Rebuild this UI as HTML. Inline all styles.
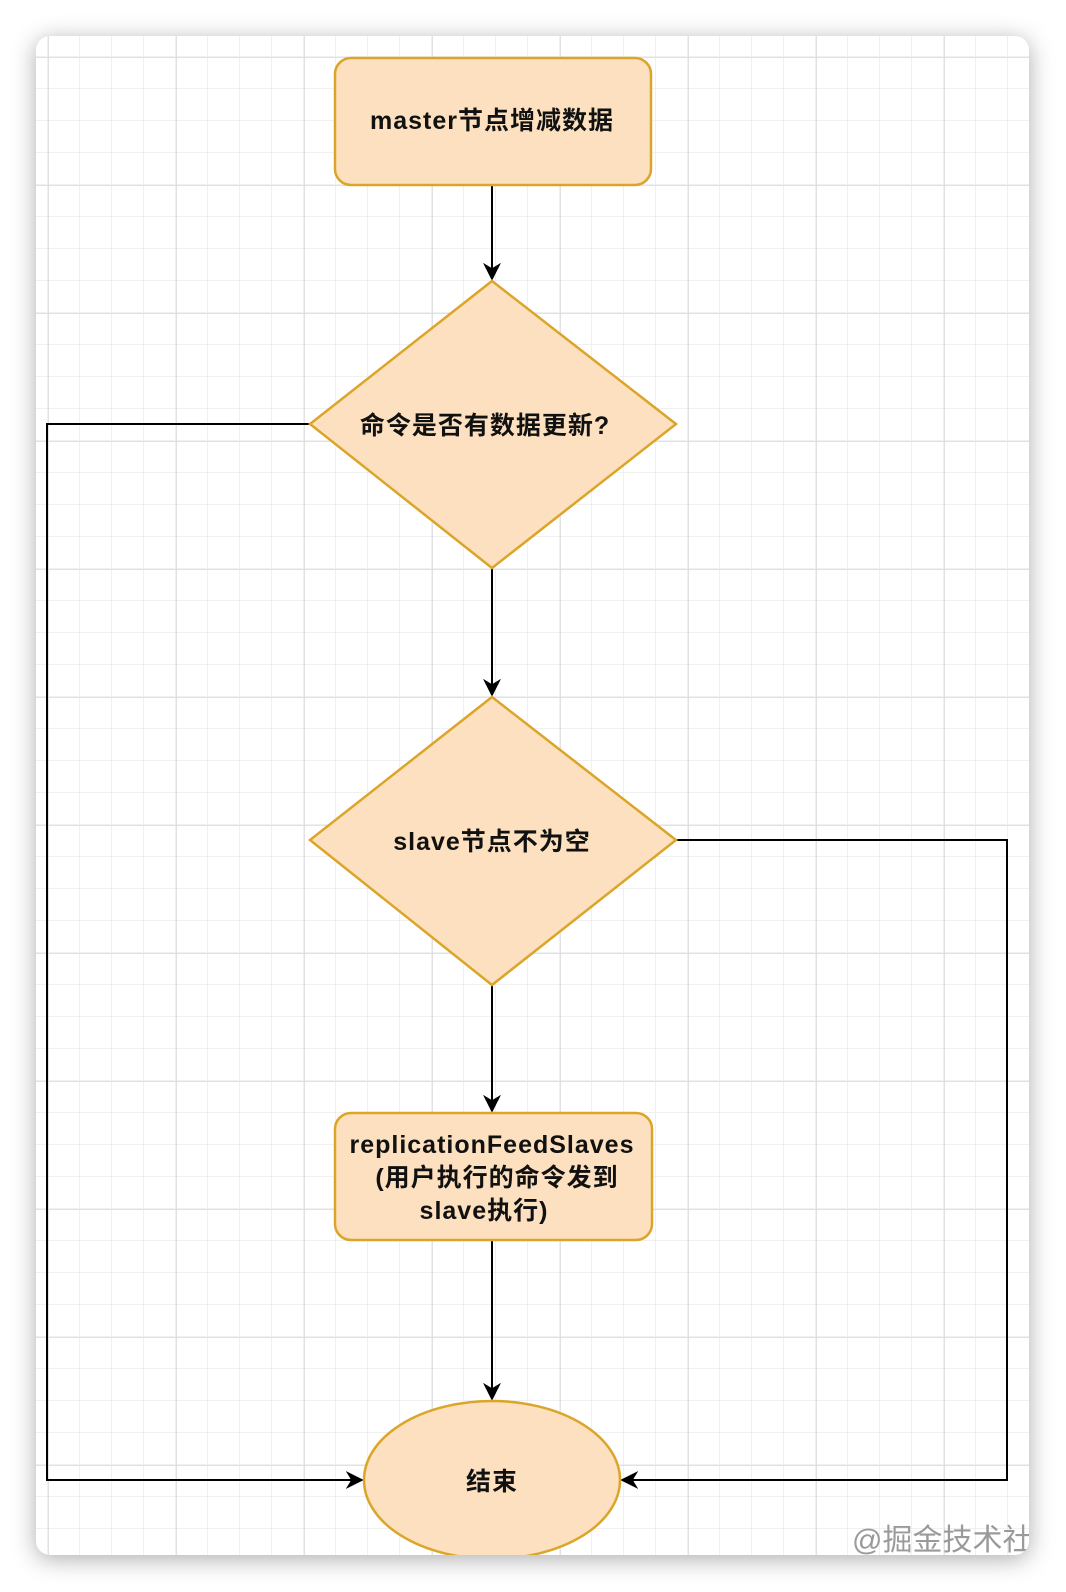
<!DOCTYPE html>
<html><head><meta charset="utf-8"><style>
html,body{margin:0;padding:0;background:#fff;}
svg{display:block;}
text{font-family:"Liberation Sans","Noto Sans CJK SC",sans-serif;font-weight:bold;fill:#111;}
</style></head><body>
<svg width="1066" height="1592" viewBox="0 0 1066 1592" xmlns="http://www.w3.org/2000/svg">
<defs>
<filter id="sh" x="-10%" y="-10%" width="120%" height="120%"><feGaussianBlur stdDeviation="12"/></filter>
<pattern id="minor" x="16" y="25" width="32" height="32" patternUnits="userSpaceOnUse">
<path d="M32 0V32M0 32H32" stroke="#ececec" stroke-width="1.5" fill="none"/></pattern>
<pattern id="major" x="48" y="57" width="128" height="128" patternUnits="userSpaceOnUse">
<path d="M0 0V128M0 0H128" stroke="#d8d8d8" stroke-width="1.5" fill="none"/></pattern>
<clipPath id="card"><rect x="36" y="36" width="993" height="1519" rx="14"/></clipPath>
<marker id="ar" viewBox="0 0 10 10" refX="9" refY="5" markerWidth="18" markerHeight="18" markerUnits="userSpaceOnUse" orient="auto">
<path d="M0 0L10 5L0 10L3 5Z" fill="#000"/></marker>
</defs>
<rect x="36" y="40" width="993" height="1519" rx="14" fill="#888" filter="url(#sh)" opacity="0.7"/>
<g clip-path="url(#card)">
<rect x="36" y="36" width="993" height="1519" fill="#fff"/>
<rect x="36" y="36" width="993" height="1519" fill="url(#minor)"/>
<rect x="36" y="36" width="993" height="1519" fill="url(#major)"/>

<g stroke="#000" stroke-width="2" fill="none">
<path d="M492 185V279" marker-end="url(#ar)"/>
<path d="M492 568V695" marker-end="url(#ar)"/>
<path d="M492 985V1111" marker-end="url(#ar)"/>
<path d="M492 1240V1399" marker-end="url(#ar)"/>
<path d="M310 424H47V1480H362" marker-end="url(#ar)"/>
<path d="M676 840H1007V1480H622" marker-end="url(#ar)"/>
</g>

<g fill="#fce0bf" stroke="#dba529" stroke-width="2.5">
<rect x="335" y="58" width="316" height="127" rx="16"/>
<path d="M492 281L676 424L492 568L310 424Z"/>
<path d="M492 697L676 840L492 985L310 840Z"/>
<rect x="335" y="1113" width="317" height="127" rx="16"/>
<ellipse cx="492" cy="1480" rx="128" ry="79"/>
</g>

<g font-size="25" text-anchor="middle" letter-spacing="1">
<text x="492" y="129">master节点增减数据</text>
<text x="485" y="434">命令是否有数据更新?</text>
<text x="492" y="850">slave节点不为空</text>
<text x="492" y="1153">replicationFeedSlaves</text>
<text x="497" y="1186">(用户执行的命令发到</text>
<text x="484" y="1219">slave执行)</text>
<text x="492" y="1490">结束</text>
</g>
<text x="852" y="1550" font-size="30" style="font-weight:normal;fill:#9a9a9a">@掘金技术社区</text>
</g>
</svg>
</body></html>
